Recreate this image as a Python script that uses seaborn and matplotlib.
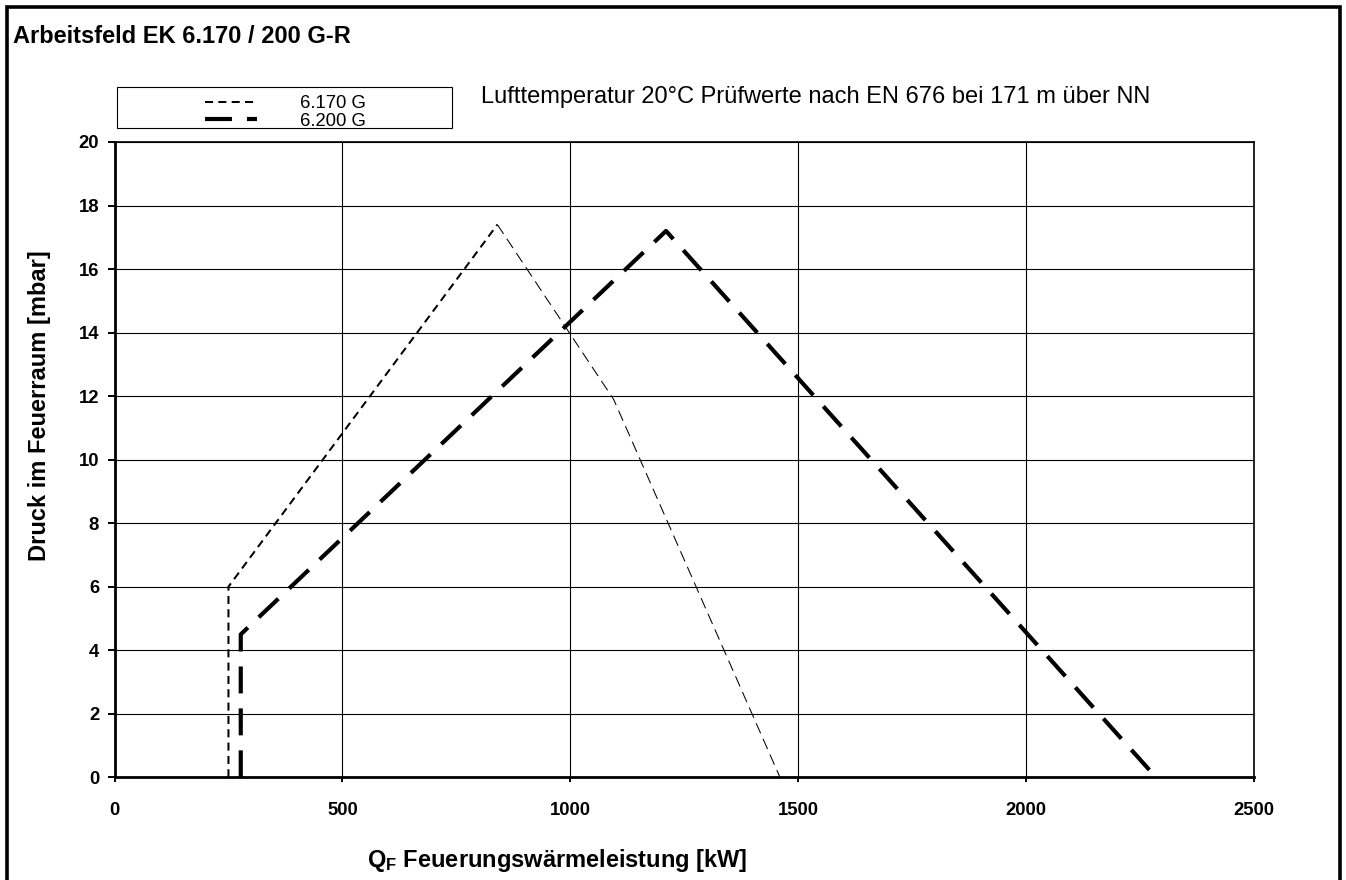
import matplotlib
matplotlib.use("Agg")
import matplotlib.pyplot as plt
from matplotlib.patches import Rectangle
import seaborn as sns

# ---- data ----
x_6170 = [250, 250, 840, 1095, 1460]
y_6170 = [0.0, 6.0, 17.4, 11.9, 0.0]

x_6200 = [277, 277, 1210, 2285]
y_6200 = [0.0, 4.5, 17.2, 0.0]

series_labels = ["6.170 G", "6.200 G"]
x_ticks = [0, 500, 1000, 1500, 2000, 2500]
y_ticks = [0, 2, 4, 6, 8, 10, 12, 14, 16, 18, 20]

title_text = "Arbeitsfeld EK 6.170 / 200 G-R"
note_text = "Lufttemperatur 20°C Prüfwerte nach EN 676 bei 171 m über NN"
xlabel_text = r"$\mathbf{Q_F}$ Feuerungswärmeleistung [kW]"
ylabel_text = "Druck im Feuerraum [mbar]"

# ---- style ----
sns.set_theme(style="white")
plt.rcParams["font.family"] = ["Liberation Sans", "DejaVu Sans"]
plt.rcParams["mathtext.fontset"] = "custom"
plt.rcParams["mathtext.rm"] = "Liberation Sans"
plt.rcParams["mathtext.bf"] = "Liberation Sans:bold"
plt.rcParams["lines.scale_dashes"] = False
plt.rcParams["text.color"] = "black"

W, H = 1346, 880
fig = plt.figure(figsize=(W / 100, H / 100), dpi=100, facecolor="white")
ax = fig.add_axes([114.5 / W, 1 - 777.3 / H, 1139.5 / W, 635.3 / H])
ax.set_facecolor("white")

# 6.170 G : rising part (thicker short dashes) and falling part (thin dashes)
sns.lineplot(x=x_6170[:3], y=y_6170[:3], ax=ax, sort=False, estimator=None,
             color="black", lw=1.45, linestyle=(0, (5.8, 3.8)),
             label=series_labels[0], zorder=3)
sns.lineplot(x=x_6170[2:], y=y_6170[2:], ax=ax, sort=False, estimator=None,
             color="black", lw=0.75, linestyle=(0, (8.0, 4.3)), zorder=3)
# 6.200 G : thick long dashes
sns.lineplot(x=x_6200, y=y_6200, ax=ax, sort=False, estimator=None,
             color="black", lw=3.0, linestyle=(0, (19.4, 10.8)),
             label=series_labels[1], zorder=3)

ax.set_xlim(0, 2500)
ax.set_ylim(0, 20)
ax.set_xticks(x_ticks)
ax.set_yticks(y_ticks)
ax.set_xticklabels([str(v) for v in x_ticks])
ax.set_yticklabels([str(v) for v in y_ticks])

ax.grid(True, color="black", lw=0.8)
ax.set_axisbelow(True)

for side in ["left", "bottom"]:
    ax.spines[side].set_linewidth(2.0)
    ax.spines[side].set_color("black")
for side in ["top", "right"]:
    ax.spines[side].set_linewidth(1.2)
    ax.spines[side].set_color("black")
    ax.spines[side].set_visible(True)

ax.tick_params(axis="x", direction="out", length=3.6, width=1.4, pad=14,
               labelsize=13.3, colors="black", bottom=True)
ax.tick_params(axis="y", direction="out", length=5.0, width=1.4, pad=6,
               labelsize=13.3, colors="black", left=True)
for lab in ax.get_xticklabels() + ax.get_yticklabels():
    lab.set_fontweight("bold")

ax.set_xlabel(xlabel_text, fontsize=17, fontweight="bold", color="black")
ax.xaxis.label.set_ha("left")
ax.xaxis.label.set_va("baseline")
ax.xaxis.set_label_coords((367 - 114.5) / 1139.5, (777.3 - 867) / 635.3)

ax.set_ylabel(ylabel_text, fontsize=17, fontweight="bold", color="black")
ax.yaxis.label.set_va("baseline")
ax.yaxis.set_label_coords((46 - 114.5) / 1139.5, (777.3 - 406) / 635.3)

# title and note
fig.text(13 / W, 1 - 43 / H, title_text, fontsize=17, fontweight="bold",
         va="baseline", ha="left", color="black")
fig.text(481 / W, 1 - 103 / H, note_text, fontsize=17, va="baseline",
         ha="left", color="black")

# legend (box drawn separately to match the tight original frame)
box = Rectangle((117 / W, 1 - 128 / H), (452 - 117) / W, (128 - 87) / H,
                transform=fig.transFigure, facecolor="white",
                edgecolor="black", lw=0.8, zorder=4, clip_on=False)
ax.add_patch(box)
leg = ax.legend(loc="upper left", bbox_to_anchor=(205 / W, 1 - 95 / H),
                bbox_transform=fig.transFigure, frameon=False,
                borderpad=0, borderaxespad=0, handlelength=2.81,
                handletextpad=2.32, labelspacing=0.04, labelcolor="black",
                prop={"family": "Liberation Sans", "size": 13.3})
leg.set_zorder(6)

# outer frame of the figure
frame = Rectangle((6.5 / W, -0.1), (1340 - 6.5) / W, 1 - 6.5 / H + 0.1,
                  transform=fig.transFigure, fill=False, edgecolor="black",
                  lw=2.6)
fig.patches.append(frame)

fig.savefig("out.png", dpi=100, facecolor="white")
